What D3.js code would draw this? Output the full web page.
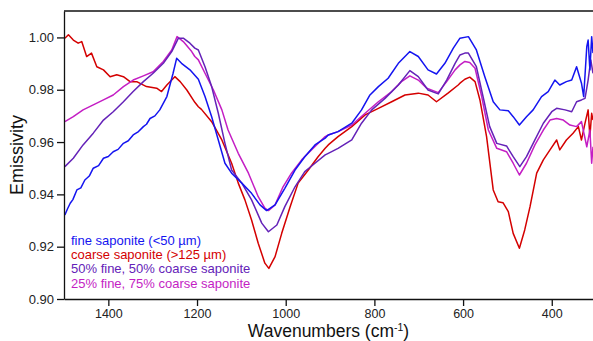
<!DOCTYPE html>
<html>
<head>
<meta charset="utf-8">
<script src="https://cdn.jsdelivr.net/npm/d3@7"></script>
<style>
    body { margin: 0; background: #fff; }
    svg { display: block; font-family: 'Liberation Sans', Arial, sans-serif; }
    .axis path, .axis line { stroke: #111; stroke-width: 1.3; }
    .axis text { fill: #222; font-size: 13px; }
    .axis--x text { font-size: 12.5px; }
    .line { fill: none; stroke-width: 1.5; stroke-linejoin: round; }
</style>
</head>
<body>
<div id="chart"></div>
<script>
// [wavenumber (cm-1), emissivity]
const fineSaponite = [
    [1498, 0.9321], [1492, 0.9345], [1486, 0.9366], [1480, 0.9380], [1471, 0.9417], [1462, 0.9425],
    [1453, 0.9455], [1443, 0.9470], [1434, 0.9500], [1422, 0.9510], [1411, 0.9538], [1400, 0.9545],
    [1389, 0.9563], [1378, 0.9572], [1366, 0.9595], [1355, 0.9605], [1344, 0.9627], [1332, 0.9640],
    [1321, 0.9659], [1314, 0.9668], [1306, 0.9690], [1295, 0.9700], [1284, 0.9723],
    [1268, 0.9774], [1254, 0.9863], [1246, 0.9920], [1235, 0.9901], [1216, 0.9876], [1197, 0.9840],
    [1182, 0.9774], [1167, 0.9697], [1152, 0.9608], [1137, 0.9519], [1122, 0.9481], [1099, 0.9443],
    [1077, 0.9404], [1058, 0.9360], [1043, 0.9338], [1024, 0.9360], [1002, 0.9423], [979, 0.9493],
    [957, 0.9544], [934, 0.9589], [911, 0.9615], [904, 0.9627], [882, 0.9640], [851, 0.9672],
    [829, 0.9723], [810, 0.9780], [791, 0.9812], [769, 0.9844], [746, 0.9901], [720, 0.9946],
    [701, 0.9927], [679, 0.9876], [660, 0.9860], [641, 0.9901], [622, 0.9959], [607, 0.9997],
    [588, 1.0003], [570, 0.9952], [551, 0.9850], [532, 0.9754], [517, 0.9723], [498, 0.9720],
    [487, 0.9697], [473, 0.9665], [457, 0.9697], [442, 0.9723], [423, 0.9774], [408, 0.9793],
    [393, 0.9837], [382, 0.9818], [367, 0.9831], [355, 0.9837], [344, 0.9888], [333, 0.9825],
    [328, 0.9774], [321, 0.9965], [318, 0.9990], [314, 0.9876], [310, 1.0003], [307, 0.9940]
];
const coarseSaponite = [
    [1498, 0.9997], [1490, 1.0010], [1479, 0.9990], [1468, 0.9978], [1460, 0.9984], [1449, 0.9927],
    [1438, 0.9940], [1426, 0.9888], [1411, 0.9876], [1396, 0.9850], [1381, 0.9857], [1366, 0.9850],
    [1351, 0.9831], [1336, 0.9831], [1314, 0.9812], [1291, 0.9806], [1280, 0.9793], [1268, 0.9818],
    [1250, 0.9850], [1238, 0.9831], [1223, 0.9799], [1205, 0.9752], [1197, 0.9735], [1190, 0.9725],
    [1167, 0.9678], [1144, 0.9608], [1122, 0.9519], [1107, 0.9443], [1092, 0.9379], [1077, 0.9302],
    [1062, 0.9213], [1047, 0.9137], [1038, 0.9117], [1024, 0.9162], [1009, 0.9251], [990, 0.9353],
    [972, 0.9443], [949, 0.9493], [927, 0.9544], [911, 0.9576], [904, 0.9589], [882, 0.9621],
    [851, 0.9659], [821, 0.9704], [791, 0.9729], [761, 0.9754], [731, 0.9780], [701, 0.9787],
    [679, 0.9780], [660, 0.9754], [634, 0.9787], [611, 0.9818], [607, 0.9825], [596, 0.9840],
    [585, 0.9848], [573, 0.9831], [562, 0.9761], [547, 0.9621], [532, 0.9417], [521, 0.9372],
    [510, 0.9368], [498, 0.9334], [487, 0.9251], [473, 0.9194], [461, 0.9264], [449, 0.9353],
    [434, 0.9481], [419, 0.9532], [404, 0.9570], [389, 0.9608], [382, 0.9570], [367, 0.9608],
    [352, 0.9634], [340, 0.9659], [333, 0.9608], [325, 0.9672], [318, 0.9723], [314, 0.9621],
    [310, 0.9710], [307, 0.9684]
];
const mix50 = [
    [1498, 0.9506], [1479, 0.9538], [1457, 0.9589], [1434, 0.9634], [1411, 0.9684], [1389, 0.9716],
    [1366, 0.9754], [1344, 0.9793], [1321, 0.9831], [1299, 0.9863], [1276, 0.9901], [1257, 0.9946],
    [1242, 0.9997], [1231, 0.9997], [1216, 0.9978], [1205, 0.9959], [1197, 0.9952], [1182, 0.9888],
    [1167, 0.9812], [1152, 0.9710], [1137, 0.9595], [1122, 0.9493], [1099, 0.9443], [1077, 0.9379],
    [1054, 0.9290], [1039, 0.9257], [1020, 0.9283], [1002, 0.9353], [979, 0.9429], [957, 0.9487],
    [934, 0.9519], [911, 0.9551], [904, 0.9557], [882, 0.9576], [851, 0.9608], [829, 0.9672],
    [806, 0.9723], [776, 0.9767], [746, 0.9818], [720, 0.9873], [701, 0.9850], [679, 0.9799],
    [656, 0.9784], [637, 0.9837], [618, 0.9901], [607, 0.9933], [596, 0.9940], [588, 0.9940],
    [570, 0.9888], [555, 0.9774], [540, 0.9659], [524, 0.9595], [502, 0.9585], [487, 0.9544],
    [472, 0.9506], [457, 0.9544], [438, 0.9608], [419, 0.9672], [400, 0.9716], [389, 0.9729],
    [370, 0.9723], [355, 0.9716], [344, 0.9754], [333, 0.9761], [325, 0.9767], [318, 0.9837],
    [312, 0.9914], [307, 0.9863]
];
const mix25 = [
    [1498, 0.9678], [1479, 0.9697], [1457, 0.9723], [1434, 0.9742], [1411, 0.9761], [1389, 0.9780],
    [1366, 0.9812], [1344, 0.9837], [1321, 0.9853], [1299, 0.9869], [1276, 0.9908], [1257, 0.9952],
    [1245, 1.0003], [1231, 0.9984], [1212, 0.9946], [1205, 0.9927], [1197, 0.9914], [1182, 0.9863],
    [1163, 0.9799], [1144, 0.9723], [1130, 0.9646], [1107, 0.9557], [1084, 0.9481], [1062, 0.9391],
    [1047, 0.9347], [1039, 0.9338], [1024, 0.9360], [1006, 0.9429], [987, 0.9481], [964, 0.9532],
    [942, 0.9570], [911, 0.9621], [904, 0.9627], [882, 0.9640], [851, 0.9665], [821, 0.9710],
    [791, 0.9754], [761, 0.9793], [739, 0.9831], [720, 0.9853], [701, 0.9837], [682, 0.9806],
    [656, 0.9789], [637, 0.9831], [618, 0.9876], [607, 0.9895], [596, 0.9908], [585, 0.9904],
    [573, 0.9882], [558, 0.9774], [543, 0.9646], [524, 0.9576], [502, 0.9563], [487, 0.9519],
    [473, 0.9474], [457, 0.9519], [438, 0.9589], [419, 0.9646], [404, 0.9684], [389, 0.9690],
    [374, 0.9684], [359, 0.9665], [344, 0.9659], [333, 0.9678], [321, 0.9582], [314, 0.9646],
    [310, 0.9519], [307, 0.9582]
];

const seriesNames = [
    'fine saponite (<50 µm)',
    'coarse saponite (>125 µm)',
    '50% fine, 50% coarse saponite',
    '25% fine, 75% coarse saponite'
];
const seriesColors = ['#1414f0', '#d40000', '#6422b8', '#c41ec4'];
const seriesData = [fineSaponite, coarseSaponite, mix50, mix25];

const xTicks = [1400, 1200, 1000, 800, 600, 400];
const yTicks = [0.90, 0.92, 0.94, 0.96, 0.98, 1.00];

const width = 593, height = 341;
const margin = { top: 11, right: 0, bottom: 42, left: 64 };
const w = width - margin.left - margin.right;
const h = height - margin.top - margin.bottom;

let svg = d3.select('#chart').append('svg')
    .attr('width', width)
    .attr('height', height);

let x = d3.scaleLinear().domain([1500, 307]).range([0, w]);
let y = d3.scaleLinear().domain([0.90, 1.0101]).range([h, 0]);

let line = d3.line()
    .x(d => x(d[0]))
    .y(d => y(d[1]));

svg.append('defs').append('clipPath')
    .attr('id', 'clip')
    .append('rect')
    .attr('width', w)
    .attr('height', h);

let focus = svg.append('g')
    .attr('transform', `translate(${margin.left},${margin.top})`);

// lines (draw order: red under the others)
let order = [1, 3, 2, 0];
focus.append('g')
    .attr('clip-path', 'url(#clip)')
    .selectAll('path')
    .data(order)
    .enter().append('path')
    .attr('class', 'line')
    .attr('stroke', i => seriesColors[i])
    .attr('d', i => line(seriesData[i]));

// axes
focus.append('g')
    .attr('class', 'axis axis--x')
    .attr('transform', `translate(0,${h})`)
    .call(d3.axisBottom(x).tickValues(xTicks).tickFormat(d3.format('d'))
        .tickSize(7).tickPadding(3).tickSizeOuter(0));

focus.append('g')
    .attr('class', 'axis axis--y')
    .call(d3.axisLeft(y).tickValues(yTicks).tickFormat(d3.format('.2f'))
        .tickSize(7).tickPadding(3).tickSizeOuter(0));

// top frame line
focus.append('line')
    .attr('x1', 0).attr('x2', w)
    .attr('y1', 0).attr('y2', 0)
    .attr('stroke', '#111')
    .attr('stroke-width', 1.3);

// axis titles
svg.append('text')
    .attr('transform', `translate(23,${margin.top + h / 2}) rotate(-90)`)
    .attr('text-anchor', 'middle')
    .attr('font-size', 18)
    .attr('fill', '#111')
    .text('Emissivity');

let xt = svg.append('text')
    .attr('x', margin.left + w / 2)
    .attr('y', 337)
    .attr('text-anchor', 'middle')
    .attr('font-size', 17.5)
    .attr('fill', '#111');
xt.append('tspan').text('Wavenumbers (cm');
xt.append('tspan').attr('font-size', 10.5).attr('dy', -6.5).text('-1');
xt.append('tspan').attr('dy', 6.5).text(')');

// legend
focus.append('g')
    .selectAll('text')
    .data(seriesNames)
    .enter().append('text')
    .attr('x', 7)
    .attr('y', (d, i) => 234 + i * 14.2)
    .attr('font-size', 13)
    .attr('fill', (d, i) => seriesColors[i])
    .text(d => d);
</script>
</body>
</html>
